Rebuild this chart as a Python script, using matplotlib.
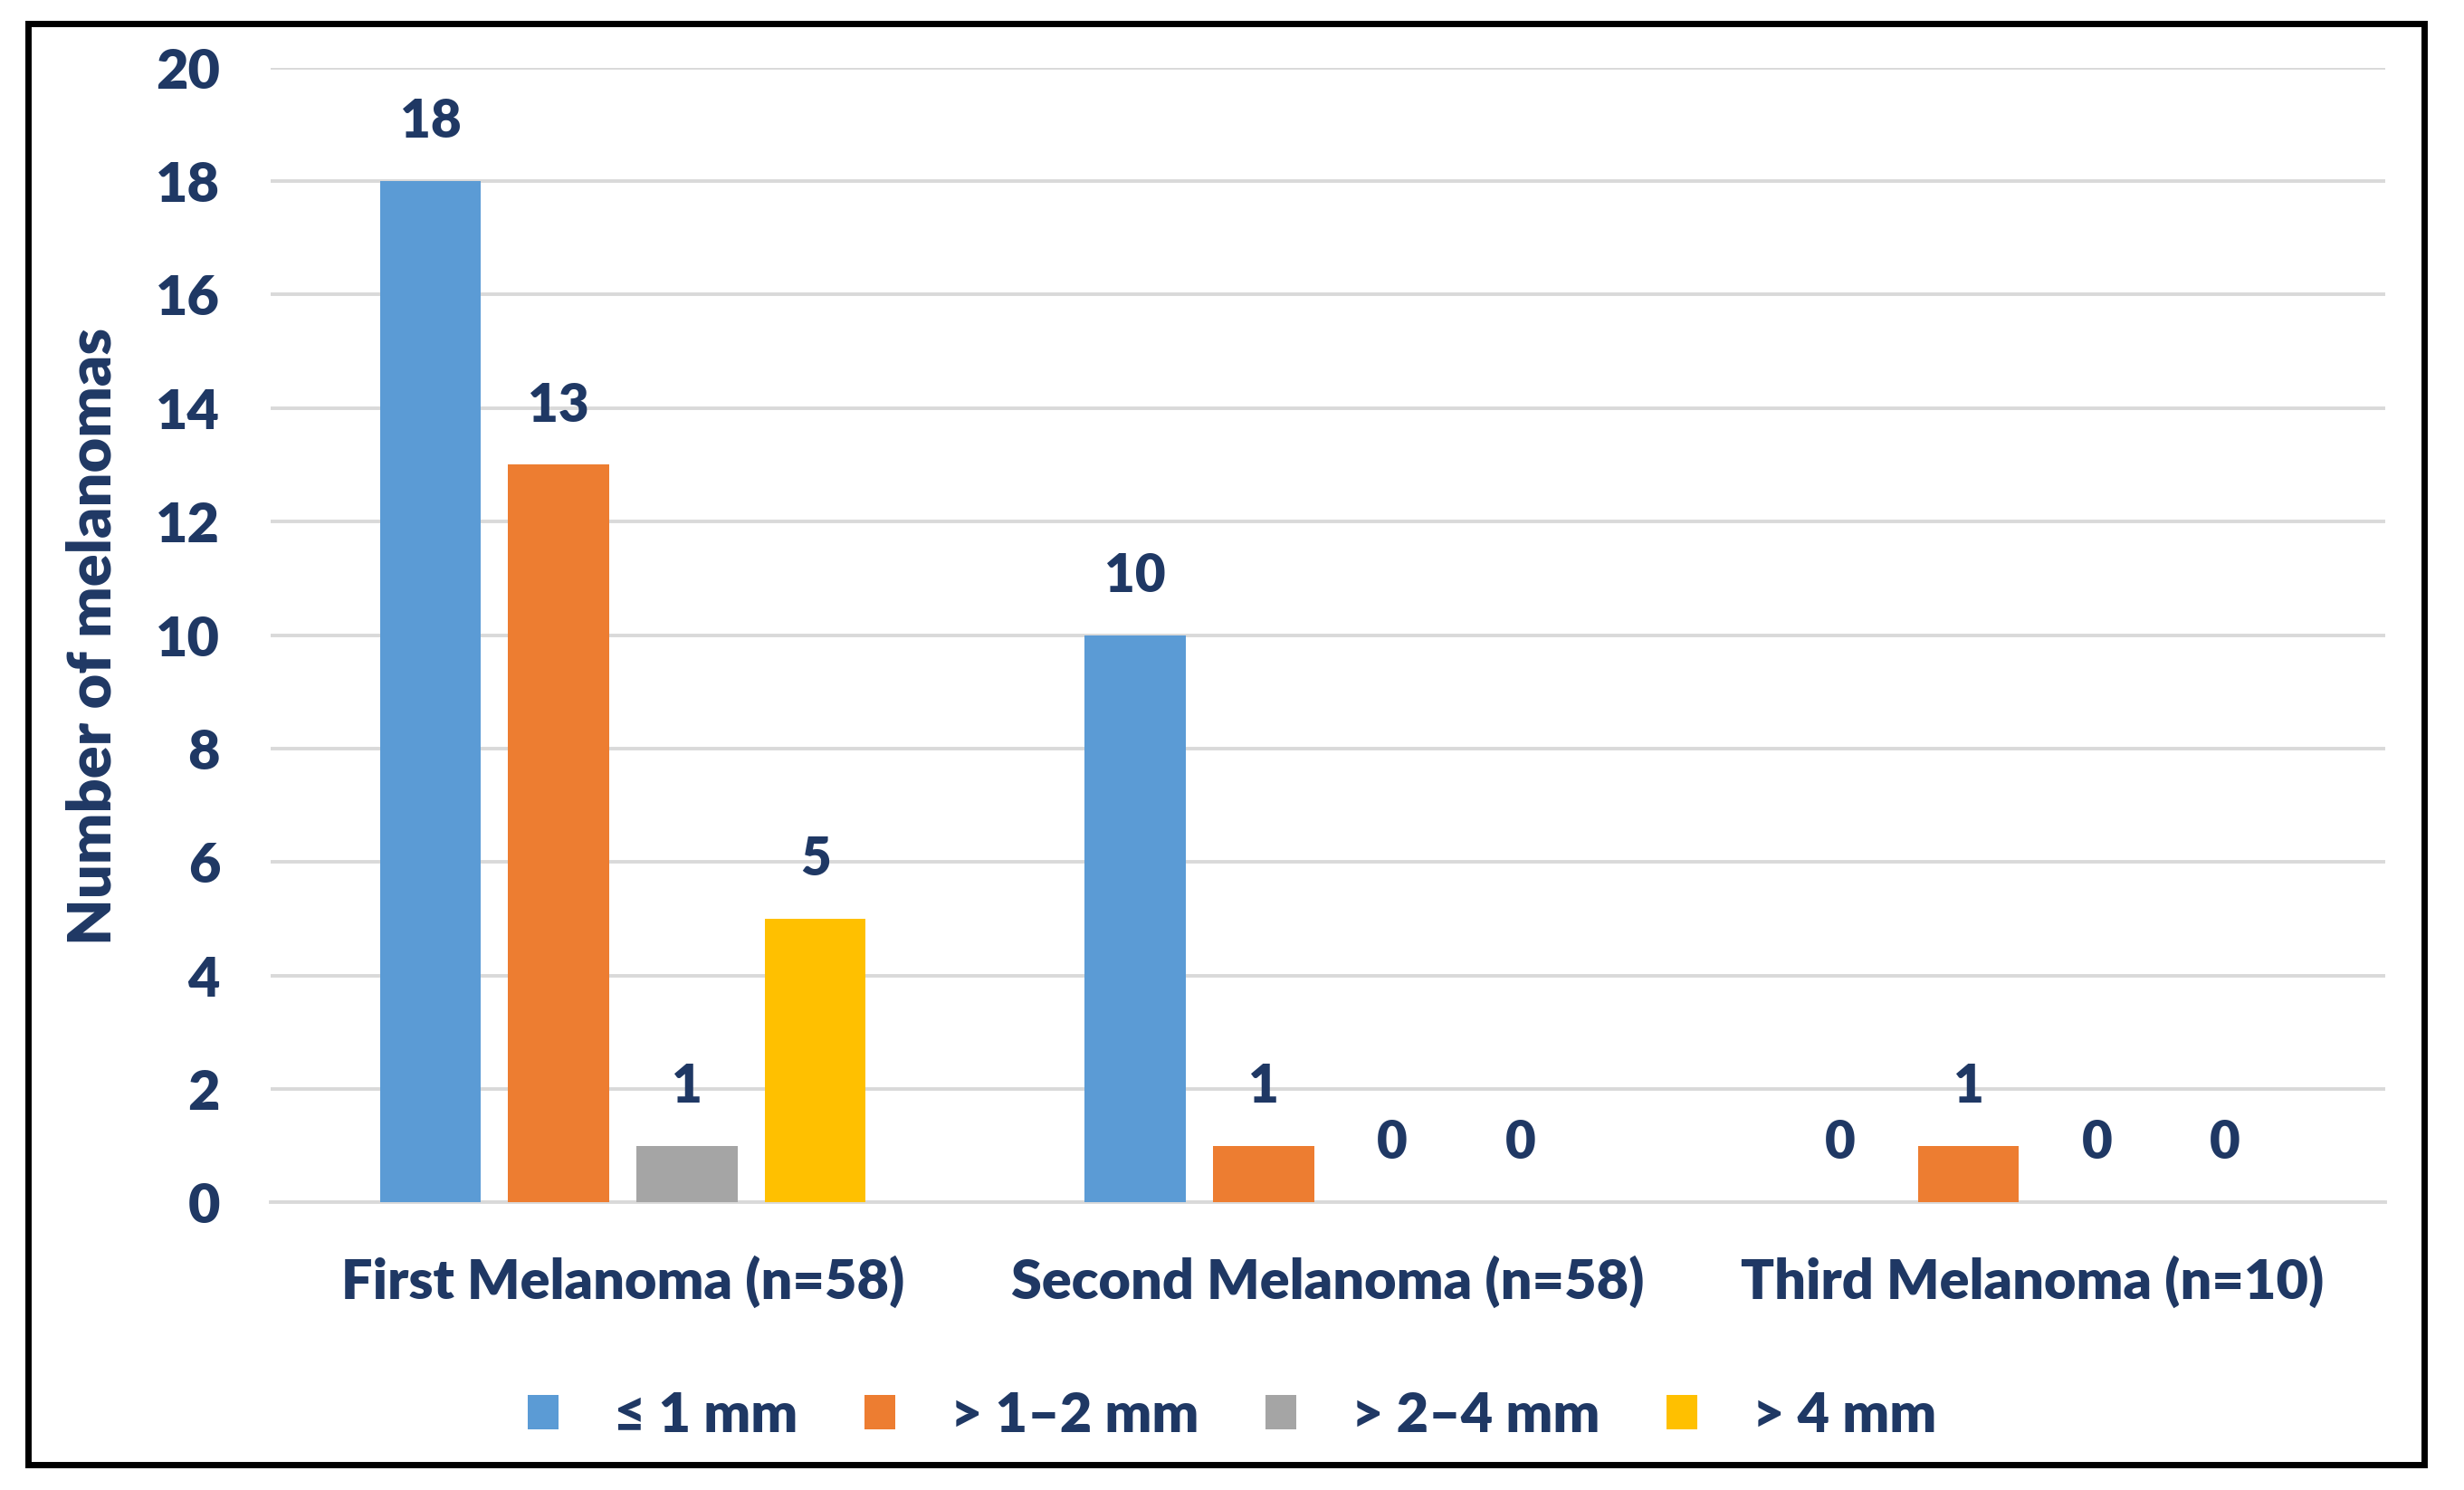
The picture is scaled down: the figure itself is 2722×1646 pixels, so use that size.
import numpy as np
import matplotlib
matplotlib.use("Agg")
import matplotlib.pyplot as plt
from matplotlib.patches import Rectangle

# data
categories = ["First Melanoma (n=58)", "Second Melanoma (n=58)", "Third Melanoma (n=10)"]
series_names = ["\u2264 1 mm", "> 1\u20132 mm", "> 2\u20134 mm", "> 4 mm"]
le_1mm = [18, 10, 0]
gt_1_2mm = [13, 1, 1]
gt_2_4mm = [1, 0, 0]
gt_4mm = [5, 0, 0]
yticks = [0, 2, 4, 6, 8, 10, 12, 14, 16, 18, 20]

colors = ["#5B9BD5", "#ED7D31", "#A5A5A5", "#FFC000"]
text_col = "#1F3864"
wt = "heavy"

plt.rcParams['font.family'] = ['Lato', 'DejaVu Sans']
plt.rcParams['font.weight'] = wt

fig = plt.figure(figsize=(13.61, 8.23), dpi=200)
ax = fig.add_axes([0.1097, 0.193, 0.8583, 0.7616])

x = np.arange(len(categories))
width = 0.143
step = 0.182
all_series = [le_1mm, gt_1_2mm, gt_2_4mm, gt_4mm]
for i, vals in enumerate(all_series):
    pos = x + (i - 1.5) * step
    ax.bar(pos, vals, width, color=colors[i], label=series_names[i], zorder=3)
    for p, v in zip(pos, vals):
        ax.annotate(str(v), (p, v), xytext=(0, 14), textcoords="offset points",
                    ha="center", va="bottom", fontsize=21, fontweight=wt,
                    color=text_col)

ax.set_xlim(-0.5, 2.5)
ax.set_ylim(0, 20)
ax.set_yticks(yticks)
ax.set_xticks(x)
ax.set_xticklabels(categories)
ax.tick_params(axis="y", length=0, pad=20, labelsize=22, labelcolor=text_col)
ax.tick_params(axis="x", length=0, pad=21, labelsize=22, labelcolor=text_col)
for lab in ax.get_xticklabels() + ax.get_yticklabels():
    lab.set_fontweight(wt)

ax.yaxis.grid(True, color="#D9D9D9", linewidth=1.4, zorder=0)
ax.set_axisbelow(True)
for s in ["top", "right", "left"]:
    ax.spines[s].set_visible(False)
ax.spines["bottom"].set_color("#D9D9D9")
ax.spines["bottom"].set_linewidth(1.4)

fig.text(0.038, 0.573, "Number of melanomas", rotation=90, ha="center", va="center",
         fontsize=24, fontweight=wt, color=text_col)

handles, labels = ax.get_legend_handles_labels()
leg = fig.legend(handles, labels, loc="center", bbox_to_anchor=(0.5, 0.05), ncol=4,
                 frameon=False, handlelength=0.56, handleheight=0.56,
                 handletextpad=1.0, columnspacing=1.2,
                 prop={"size": 22, "weight": wt})
for t in leg.get_texts():
    t.set_color(text_col)

# black frame around the whole chart
fig.patches.append(Rectangle((0.0115, 0.0169), 0.9725, 0.9671, transform=fig.transFigure,
                             fill=False, edgecolor="black", linewidth=2.5))

fig.savefig("out.png", dpi=200, facecolor="white")
